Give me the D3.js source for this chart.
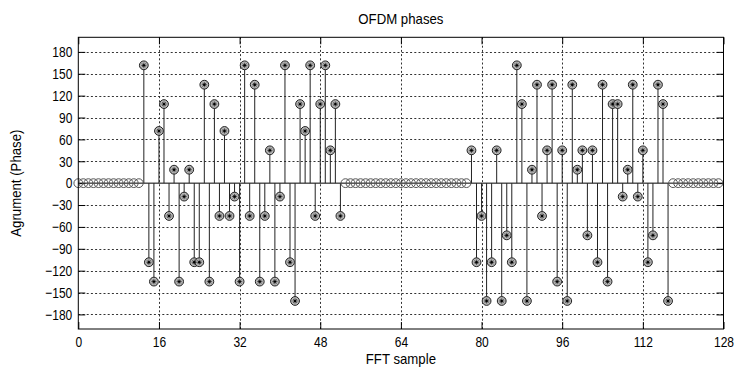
<!DOCTYPE html>
<html>
<head>
<meta charset="utf-8">
<script src="https://cdn.jsdelivr.net/npm/d3@7"></script>
<style>
  html, body { margin: 0; padding: 0; background: #fff; }
  svg text { font-family: "Liberation Sans", Arial, Helvetica, sans-serif; fill: #000; }
</style>
</head>
<body>
<svg id="chart" width="737" height="374"></svg>
<script>
// ---- data ----
const title = "OFDM phases";
const xLabel = "FFT sample";
const yLabel = "Agrument (Phase)";
const xTicks = [0, 16, 32, 48, 64, 80, 96, 112, 128];
const yTicks = [180, 150, 120, 90, 60, 30, 0, -30, -60, -90, -120, -150, -180];
// phase (degrees) of each FFT sample 0..127
const phase = [
  0, 0, 0, 0, 0, 0, 0, 0, 0, 0, 0, 0, 0,
  161.57, -108.43, -135, 71.57, 108.43, -45, 18.43, -135, -18.43, 18.43,
  -108.43, -108.43, 135, -135, 108.43, -45, 71.57, -45, -18.43, -135,
  161.57, -45, 135, -135, -45, 45, -135, -18.43, 161.57, -108.43,
  -161.57, 108.43, 71.57, 161.57, -45, 108.43, 161.57, 45, 108.43, -45,
  0, 0, 0, 0, 0, 0, 0, 0, 0, 0, 0, 0, 0, 0, 0, 0, 0, 0, 0, 0, 0, 0, 0, 0, 0,
  45, -108.43, -45, -161.57, -108.43, 45, -161.57, -71.57, -108.43, 161.57,
  108.43, -161.57, 18.43, 135, -45, 45, 135, -135, 45, -161.57,
  135, 18.43, 45, -71.57, 45, -108.43, 135, -135, 108.43, 108.43,
  -18.43, 18.43, 135, -18.43, 45, -108.43, -71.57, 135, 108.43, -161.57,
  0, 0, 0, 0, 0, 0, 0, 0, 0, 0
];
const sampleIndex = phase.map((_, i) => i);

// ---- layout ----
const L = 78.3, R = 723.5, T = 37.3, B = 329;
const FS = 15;
const svg = d3.select("#chart");
const x = d3.scaleLinear().domain([0, 128]).range([L, R]);
const y = d3.scaleLinear().domain([-200, 200]).range([B, T]);

function condense(sel, k) {
  sel.each(function () {
    const w = this.getComputedTextLength();
    d3.select(this).attr("textLength", w * k).attr("lengthAdjust", "spacingAndGlyphs");
  });
}

// grid
const grid = svg.append("g").attr("stroke", "#000").attr("stroke-width", 1)
  .attr("stroke-dasharray", "2,2.2").attr("opacity", 0.8);
grid.selectAll("line.gy").data(yTicks.filter(v => v !== 0)).join("line")
  .attr("x1", L).attr("x2", R)
  .attr("y1", d => Math.round(y(d)) + 0.5).attr("y2", d => Math.round(y(d)) + 0.5);
grid.selectAll("line.gx").data(xTicks.filter(v => v > 0 && v < 128)).join("line")
  .attr("y1", T).attr("y2", B)
  .attr("x1", d => Math.round(x(d)) + 0.5).attr("x2", d => Math.round(x(d)) + 0.5);

// axes with inward ticks
const tl = 7;
const axB = d3.axisBottom(x).tickValues(xTicks).tickSizeInner(-tl).tickSizeOuter(0).tickPadding(7);
const axT = d3.axisTop(x).tickValues(xTicks).tickSizeInner(-tl).tickSizeOuter(0).tickFormat("");
const axL = d3.axisLeft(y).tickValues(yTicks).tickSizeInner(-tl).tickSizeOuter(0).tickPadding(6);
const axR = d3.axisRight(y).tickValues(yTicks).tickSizeInner(-tl).tickSizeOuter(0).tickFormat("");
function style(g) {
  g.select(".domain").remove();
  g.selectAll(".tick line").attr("stroke", "#000");
  g.selectAll(".tick text").attr("font-size", FS).attr("fill", "#000")
    .attr("font-family", "'Liberation Sans', Arial, sans-serif");
  condense(g.selectAll(".tick text"), 0.8);
}
svg.append("g").attr("transform", `translate(0,${B})`).call(axB).call(style);
svg.append("g").attr("transform", `translate(0,${T})`).call(axT).call(style);
svg.append("g").attr("transform", `translate(${L},0)`).call(axL).call(style);
svg.append("g").attr("transform", `translate(${R},0)`).call(axR).call(style);

// baseline
svg.append("line").attr("x1", x(0)).attr("x2", x(128))
  .attr("y1", y(0)).attr("y2", y(0)).attr("stroke", "#000").attr("stroke-width", 1);

// stems
svg.append("g").selectAll("line").data(sampleIndex.filter(i => phase[i] !== 0)).join("line")
  .attr("x1", i => x(i)).attr("x2", i => x(i))
  .attr("y1", y(0)).attr("y2", i => y(phase[i]))
  .attr("stroke", "#222").attr("stroke-width", 1);

// markers
const mk = svg.append("g");
mk.selectAll("circle").data(sampleIndex).join("circle")
  .attr("cx", i => x(i)).attr("cy", i => y(phase[i])).attr("r", 4.4)
  .attr("fill", i => phase[i] !== 0 ? "#b5b5b5" : "none")
  .attr("stroke", i => phase[i] !== 0 ? "#222" : "#555").attr("stroke-width", 1);
const star = mk.selectAll("g.star").data(sampleIndex.filter(i => phase[i] !== 0)).join("g")
  .attr("transform", i => `translate(${x(i)},${y(phase[i])})`);
[[-2.6, 0, 2.6, 0], [0, -2.6, 0, 2.6], [-1.9, -1.9, 1.9, 1.9], [-1.9, 1.9, 1.9, -1.9]].forEach(s => {
  star.append("line").attr("x1", s[0]).attr("y1", s[1]).attr("x2", s[2]).attr("y2", s[3])
    .attr("stroke", "#444").attr("stroke-width", 0.9);
});
star.append("circle").attr("r", 1.2).attr("fill", "#000");

// frame
svg.append("rect").attr("x", L).attr("y", T).attr("width", R - L).attr("height", B - T)
  .attr("fill", "none").attr("stroke", "#000").attr("stroke-width", 1);

// texts
const tTitle = svg.append("text").attr("x", (L + R) / 2).attr("y", 24).attr("text-anchor", "middle")
  .attr("font-size", FS).text(title);
const tX = svg.append("text").attr("x", (L + R) / 2).attr("y", 364).attr("text-anchor", "middle")
  .attr("font-size", FS).text(xLabel);
const tY = svg.append("text").attr("transform", `translate(21,${(T + B) / 2}) rotate(-90)`)
  .attr("text-anchor", "middle").attr("font-size", FS).text(yLabel);
condense(tTitle, 0.88);
condense(tX, 0.88);
condense(tY, 0.88);
</script>
</body>
</html>
